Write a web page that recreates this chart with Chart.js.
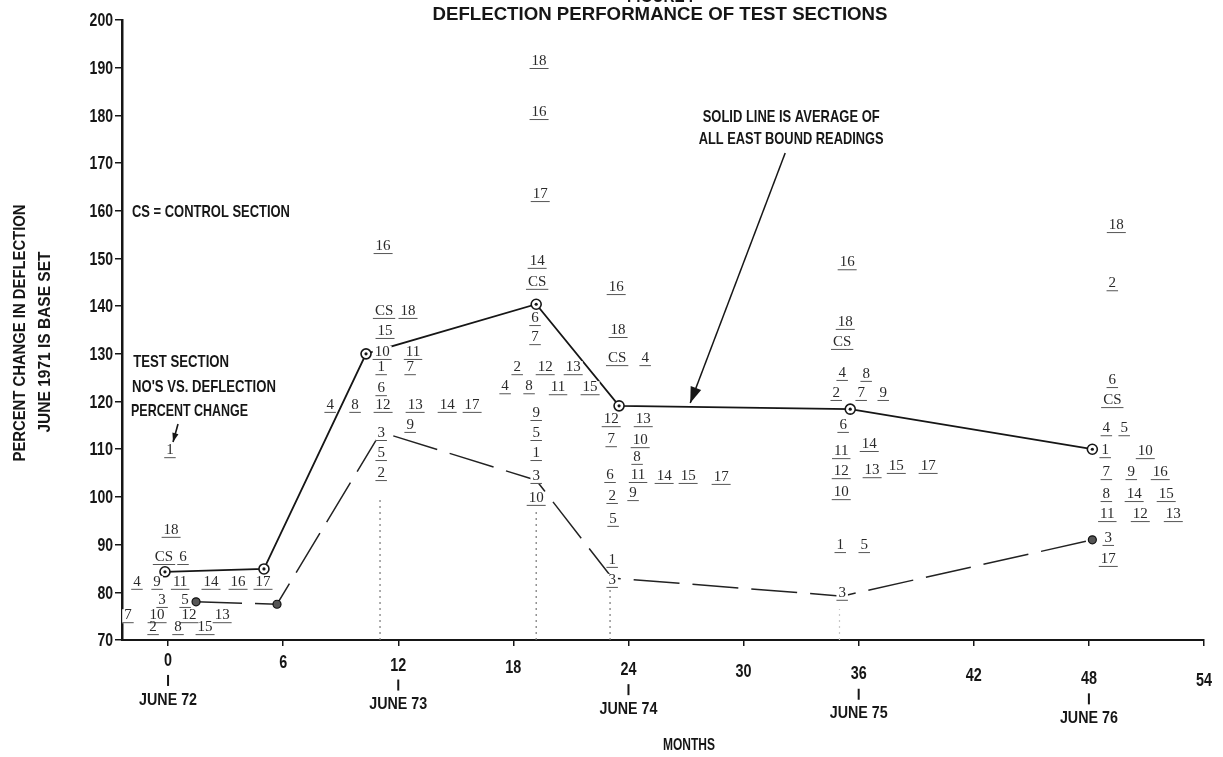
<!DOCTYPE html>
<html lang="en">
<head>
<meta charset="UTF-8" />
<title>Deflection Performance of Test Sections</title>
<style>
  html, body { margin: 0; padding: 0; background: #fff; }
</style>
</head>
<body>
<canvas id="chart" width="1223" height="757"></canvas>

<script src="https://cdn.jsdelivr.net/npm/chart.js"></script>
<script>
// axis ticks
const monthTicks = [0, 6, 12, 18, 24, 30, 36, 42, 48, 54];
const valueTicks = [70, 80, 90, 100, 110, 120, 130, 140, 150, 160, 170, 180, 190, 200];
const juneMonths = [0, 12, 24, 36, 48];
const juneLabels = ['JUNE 72', 'JUNE 73', 'JUNE 74', 'JUNE 75', 'JUNE 76'];

// solid line = average of all east bound readings
const avgMonths = [-0.16, 5.0, 10.32, 19.19, 23.51, 35.56, 48.18];
const avgValues = [84.3, 84.9, 130.0, 140.4, 119.1, 118.4, 110.0];

// long dashed line (follows section 3)
const dashMonths = [1.46, 5.68, 11.1, 19.19, 23.15, 35.14, 48.18];
const dashValues = [78.0, 77.5, 113.6, 103.5, 83.0, 79.2, 91.0];

// faint dotted verticals
const dropMonths = [11.05, 19.19, 23.04, 35.0];
const dropTops = [99.5, 97.0, 81.5, 76.5];

// test section numbers, per reading
const jun72Names = ['1', '18', 'CS', '6', '4', '9', '11', '14', '16', '17', '3', '5', '7', '10', '12', '13', '2', '8', '15'];
const jun72Months = [0.10, 0.16, -0.21, 0.78, -1.62, -0.57, 0.63, 2.24, 3.65, 4.95, -0.31, 0.89, -2.09, -0.57, 1.09, 2.82, -0.78, 0.52, 1.93];
const jun72Values = [109.8, 93.1, 87.4, 87.4, 82.2, 82.2, 82.2, 82.2, 82.2, 82.2, 78.4, 78.4, 75.2, 75.2, 75.2, 75.2, 72.7, 72.7, 72.7];

const jun73Names = ['16', 'CS', '18', '15', '10', '11', '1', '7', '6', '4', '8', '12', '13', '14', '17', '9', '3', '5', '2'];
const jun73Months = [11.21, 11.26, 12.51, 11.31, 11.16, 12.77, 11.11, 12.62, 11.11, 8.45, 9.75, 11.21, 12.88, 14.55, 15.85, 12.62, 11.11, 11.11, 11.11];
const jun73Values = [152.6, 139.0, 139.0, 134.8, 130.4, 130.4, 127.2, 127.2, 122.8, 119.3, 119.3, 119.3, 119.3, 119.3, 119.3, 115.1, 113.4, 109.2, 105.0];

const jan74Names = ['18', '16', '17', '14', 'CS', '6', '7', '2', '12', '13', '4', '8', '11', '15', '9', '5', '1', '3', '10'];
const jan74Months = [19.34, 19.34, 19.40, 19.24, 19.24, 19.13, 19.13, 18.20, 19.66, 21.12, 17.57, 18.82, 20.33, 22.00, 19.19, 19.19, 19.19, 19.19, 19.19];
const jan74Values = [191.4, 180.7, 163.5, 149.5, 145.1, 137.5, 133.5, 127.2, 127.2, 127.2, 123.2, 123.2, 123.0, 123.0, 117.6, 113.4, 109.2, 104.4, 99.8];

const jun74Names = ['16', '18', 'CS', '4', '12', '13', '7', '10', '8', '6', '11', '14', '15', '17', '2', '9', '5', '1', '3'];
const jun74Months = [23.36, 23.46, 23.41, 24.87, 23.10, 24.77, 23.10, 24.61, 24.45, 23.04, 24.50, 25.86, 27.11, 28.83, 23.15, 24.24, 23.20, 23.15, 23.15];
const jun74Values = [144.0, 135.0, 129.1, 129.1, 116.3, 116.3, 112.1, 111.9, 108.4, 104.6, 104.6, 104.4, 104.4, 104.2, 100.2, 100.8, 95.4, 86.8, 82.6];

const jun75Names = ['16', '18', 'CS', '4', '8', '2', '7', '9', '6', '14', '11', '12', '13', '15', '17', '10', '1', '5', '3'];
const jun75Months = [35.40, 35.30, 35.14, 35.14, 36.39, 34.83, 36.13, 37.28, 35.19, 36.55, 35.09, 35.09, 36.70, 37.96, 39.62, 35.09, 35.04, 36.29, 35.14];
const jun75Values = [149.2, 136.7, 132.5, 126.0, 125.8, 121.8, 121.8, 121.8, 115.1, 111.1, 109.6, 105.4, 105.6, 106.5, 106.5, 101.0, 89.9, 89.9, 79.9];

const jun76Names = ['18', '2', '6', 'CS', '4', '5', '1', '10', '7', '9', '16', '8', '14', '15', '11', '12', '13', '3', '17'];
const jun76Months = [49.43, 49.22, 49.22, 49.22, 48.91, 49.84, 48.85, 50.94, 48.91, 50.21, 51.72, 48.91, 50.36, 52.03, 48.96, 50.68, 52.40, 49.01, 49.01];
const jun76Values = [157.0, 144.8, 124.5, 120.3, 114.4, 114.4, 109.8, 109.6, 105.2, 105.2, 105.2, 100.6, 100.6, 100.6, 96.4, 96.4, 96.4, 91.4, 87.0];

const readings = [
  [jun72Names, jun72Months, jun72Values],
  [jun73Names, jun73Months, jun73Values],
  [jan74Names, jan74Months, jan74Values],
  [jun74Names, jun74Months, jun74Values],
  [jun75Names, jun75Months, jun75Values],
  [jun76Names, jun76Months, jun76Values]
];

const ink = '#161616';
const boldFace = 'bold 18px "Liberation Sans", Roboto, sans-serif';

function pts(xs, ys) {
  return xs.map((v, i) => ({ x: v, y: ys[i] }));
}

// typed lettering is tall and narrow: stretch the text to an exact width
function squeeze(ctx, s, x, y, w, align) {
  const mw = ctx.measureText(s).width;
  const k = w / mw;
  ctx.save();
  ctx.translate(x, y);
  ctx.scale(k, 1);
  ctx.textAlign = align || 'center';
  ctx.fillText(s, 0, 0);
  ctx.restore();
}

function arrow(ctx, x1, y1, x2, y2, head) {
  const a = Math.atan2(y2 - y1, x2 - x1);
  ctx.beginPath();
  ctx.moveTo(x1, y1);
  ctx.lineTo(x2, y2);
  ctx.stroke();
  ctx.beginPath();
  ctx.moveTo(x2, y2);
  ctx.lineTo(x2 - head * Math.cos(a) + head * 0.35 * Math.sin(a), y2 - head * Math.sin(a) - head * 0.35 * Math.cos(a));
  ctx.lineTo(x2 - head * Math.cos(a) - head * 0.35 * Math.sin(a), y2 - head * Math.sin(a) + head * 0.35 * Math.cos(a));
  ctx.closePath();
  ctx.fill();
}

// underlined section numbers
const sectionLabels = {
  id: 'sectionLabels',
  afterDatasetsDraw(chart) {
    const { ctx, scales: { x, y } } = chart;
    ctx.save();
    ctx.font = '15px "Liberation Serif", "DejaVu Serif", serif';
    ctx.textBaseline = 'middle';
    ctx.textAlign = 'center';
    // blank out lines under the numbers first
    ctx.fillStyle = '#fff';
    readings.forEach(([names, ms, vs]) => {
      names.forEach((t, i) => {
        const w = ctx.measureText(t).width;
        ctx.fillRect(x.getPixelForValue(ms[i]) - w / 2 - 2, y.getPixelForValue(vs[i]) - 6, w + 4, 14);
      });
    });
    readings.forEach(([names, ms, vs]) => {
      names.forEach((t, i) => {
        const px = x.getPixelForValue(ms[i]);
        const py = y.getPixelForValue(vs[i]);
        const w = ctx.measureText(t).width;
        ctx.fillStyle = '#2a2a2a';
        ctx.fillText(t, px, py);
        ctx.strokeStyle = '#555';
        ctx.lineWidth = 1;
        ctx.beginPath();
        ctx.moveTo(px - w / 2 - 2, py + 7.5);
        ctx.lineTo(px + w / 2 + 2, py + 7.5);
        ctx.stroke();
      });
    });
    ctx.restore();
  }
};

// titles, notes, arrows, tick numbers
const notes = {
  id: 'notes',
  afterDraw(chart) {
    const { ctx, scales: { x, y } } = chart;
    ctx.save();
    ctx.fillStyle = ink;
    ctx.strokeStyle = ink;
    ctx.textBaseline = 'middle';
    ctx.font = boldFace;

    squeeze(ctx, 'FIGURE I', 660, -3, 66);
    squeeze(ctx, 'DEFLECTION PERFORMANCE OF TEST SECTIONS', 660, 15, 455);

    ctx.font = 'bold 17px "Liberation Sans", Roboto, sans-serif';
    squeeze(ctx, 'CS = CONTROL SECTION', x.getPixelForValue(-1.88), y.getPixelForValue(159.7), 158, 'left');
    squeeze(ctx, 'TEST SECTION', x.getPixelForValue(-1.82), y.getPixelForValue(128.3), 96, 'left');
    squeeze(ctx, "NO'S VS. DEFLECTION", x.getPixelForValue(-1.88), y.getPixelForValue(123.0), 144, 'left');
    squeeze(ctx, 'PERCENT CHANGE', x.getPixelForValue(-1.93), y.getPixelForValue(118.0), 117, 'left');

    squeeze(ctx, 'SOLID LINE IS AVERAGE OF', x.getPixelForValue(32.48), y.getPixelForValue(179.6), 177);
    squeeze(ctx, 'ALL EAST BOUND READINGS', x.getPixelForValue(32.48), y.getPixelForValue(175.0), 185);

    ctx.lineWidth = 1.6;
    arrow(ctx, x.getPixelForValue(0.52), y.getPixelForValue(115.3), x.getPixelForValue(0.26), y.getPixelForValue(111.5), 9);
    ctx.lineWidth = 1.5;
    arrow(ctx, x.getPixelForValue(32.17), y.getPixelForValue(172.1), x.getPixelForValue(27.22), y.getPixelForValue(119.7), 16);

    // y axis title
    ctx.save();
    ctx.translate(20, 333);
    ctx.rotate(-Math.PI / 2);
    squeeze(ctx, 'PERCENT CHANGE IN DEFLECTION', 0, 0, 257);
    ctx.restore();
    ctx.save();
    ctx.translate(45, 342);
    ctx.rotate(-Math.PI / 2);
    squeeze(ctx, 'JUNE 1971 IS BASE SET', 0, 0, 181);
    ctx.restore();

    // tick numbers
    ctx.font = 'bold 19px "Liberation Sans", Roboto, sans-serif';
    valueTicks.forEach(v => {
      const s = String(v);
      squeeze(ctx, s, 113, y.getPixelForValue(v) + 1, s.length * 7.8, 'right');
    });
    monthTicks.forEach(m => {
      const s = String(m);
      const px = x.getPixelForValue(m);
      squeeze(ctx, s, px, 661 + 0.019 * (px - 171), s.length * 8);
    });

    // june markers under the month axis
    ctx.font = 'bold 17px "Liberation Sans", Roboto, sans-serif';
    ctx.lineWidth = 2;
    juneMonths.forEach((m, i) => {
      const px = x.getPixelForValue(m);
      const drift = 0.02 * (px - 171);
      ctx.beginPath();
      ctx.moveTo(px, 675 + drift);
      ctx.lineTo(px, 686 + drift);
      ctx.stroke();
      squeeze(ctx, juneLabels[i], px, 700 + drift, 58);
    });

    squeeze(ctx, 'MONTHS', 689, 745, 52);
    ctx.restore();
  }
};

const dropSets = dropMonths.map((m, i) => ({
  data: [{ x: m, y: 70 }, { x: m, y: dropTops[i] }],
  showLine: true,
  borderColor: i === 3 ? '#c8c8c8' : '#777',
  borderWidth: 1.2,
  borderDash: [2, 4],
  pointRadius: 0,
  order: 4
}));

new Chart(document.getElementById('chart'), {
  type: 'scatter',
  data: {
    datasets: [
      {
        data: pts(avgMonths, avgValues),
        pointRadius: 1.6,
        pointBackgroundColor: ink,
        pointBorderWidth: 0,
        showLine: false,
        order: 0
      },
      {
        data: pts(avgMonths, avgValues),
        showLine: true,
        borderColor: ink,
        borderWidth: 1.8,
        pointRadius: 5,
        pointBorderWidth: 1.6,
        pointBorderColor: ink,
        pointBackgroundColor: '#fff',
        order: 1
      },
      {
        data: pts(dashMonths, dashValues),
        showLine: true,
        borderColor: '#222',
        borderWidth: 1.5,
        borderDash: [46, 13],
        pointRadius: [4, 4, 0, 0, 0, 0, 4],
        pointBorderWidth: 1.2,
        pointBorderColor: '#111',
        pointBackgroundColor: '#555',
        order: 2
      },
      ...dropSets
    ]
  },
  options: {
    responsive: false,
    animation: false,
    devicePixelRatio: 1,
    layout: { padding: { top: 20, right: 19, left: 0, bottom: 0 } },
    plugins: {
      legend: { display: false },
      tooltip: { enabled: false }
    },
    scales: {
      x: {
        type: 'linear',
        min: -2.4,
        max: 54,
        afterBuildTicks: s => { s.ticks = monthTicks.map(v => ({ value: v })); },
        afterFit: s => { s.height = 117; },
        ticks: { display: false },
        grid: { drawOnChartArea: false, drawTicks: true, tickLength: 6, color: ink, lineWidth: 1.5 },
        border: { color: ink, width: 2 }
      },
      y: {
        min: 70,
        max: 200,
        afterBuildTicks: s => { s.ticks = valueTicks.map(v => ({ value: v })); },
        afterFit: s => { s.width = 122; },
        ticks: { display: false },
        grid: { drawOnChartArea: false, drawTicks: true, tickLength: 7, color: ink, lineWidth: 1.5 },
        border: { color: ink, width: 2.5 }
      }
    }
  },
  plugins: [sectionLabels, notes]
});
</script>
</body>
</html>
